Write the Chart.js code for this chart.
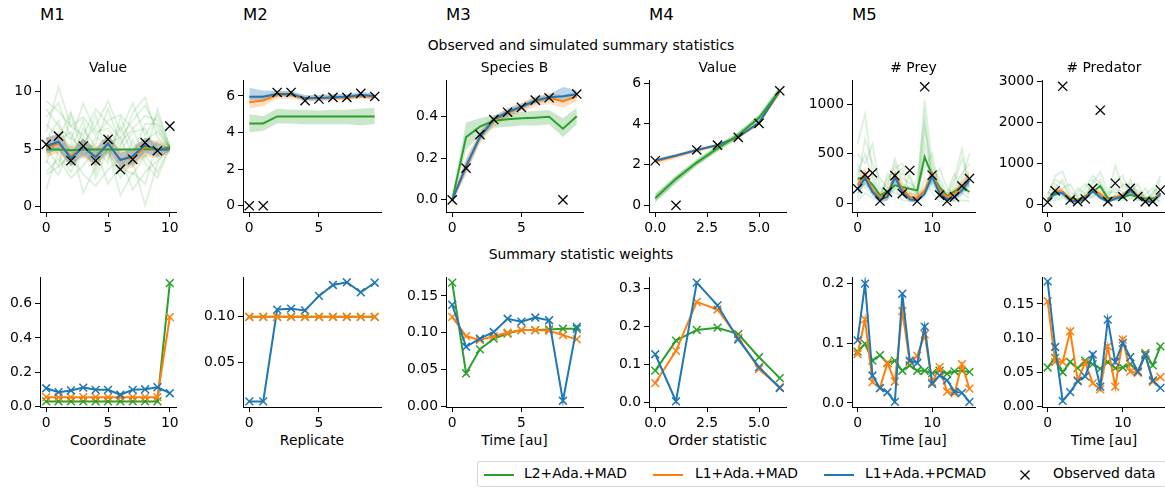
<!DOCTYPE html>
<html>
<head>
<meta charset="utf-8">
<script src="https://cdn.jsdelivr.net/npm/chart.js@4.4.1/dist/chart.umd.min.js"></script>
<style>
  html, body { margin: 0; padding: 0; background: #fff; overflow: hidden; }
  body { width: 1165px; height: 488px; position: relative; font-family: 'DejaVu Sans', sans-serif; color: #000; }
  canvas { position: absolute; }
  .t { position: absolute; transform: translate(-50%, -50%); white-space: nowrap; font-size: 13.9px; line-height: 1; }
  .m { position: absolute; transform: translate(0, -50%); font-size: 16.5px; line-height: 1; }
  #legend { position: absolute; left: 477px; top: 461px; width: 690px; height: 26px; border: 1px solid #d6d6d6; border-radius: 3px; box-sizing: border-box; }
  #legend .sw { position: absolute; top: 12px; width: 30px; height: 2px; }
  #legend .lb { position: absolute; top: 12px; transform: translate(0, -50%); font-size: 13.9px; line-height: 1; white-space: nowrap; }
  #legend svg { position: absolute; top: 7px; }
</style>
</head>
<body>

<div class="m" style="left:40px;top:15px">M1</div>
<div class="m" style="left:243px;top:15px">M2</div>
<div class="m" style="left:446px;top:15px">M3</div>
<div class="m" style="left:649px;top:15px">M4</div>
<div class="m" style="left:852px;top:15px">M5</div>
<div class="t" style="left:581px;top:46px">Observed and simulated summary statistics</div>
<div class="t" style="left:581px;top:255px">Summary statistic weights</div>

<div id="legend">
  <div class="sw" style="left:6px;background:#2ca02c"></div>
  <div class="lb" style="left:46px">L2+Ada.+MAD</div>
  <div class="sw" style="left:175px;background:#ff7f0e"></div>
  <div class="lb" style="left:217px">L1+Ada.+MAD</div>
  <div class="sw" style="left:346px;background:#1f77b4"></div>
  <div class="lb" style="left:387px">L1+Ada.+PCMAD</div>
  <svg style="left:541px" width="12" height="12"><path d="M1.5 1.5 L10.5 10.5 M10.5 1.5 L1.5 10.5" stroke="#000" stroke-width="1.3"/></svg>
  <div class="lb" style="left:575px">Observed data</div>
</div>

<script>
const GREEN = '#2ca02c'
const ORANGE = '#ff7f0e'
const BLUE = '#1f77b4'

// ---- observed and simulated summary statistics ----

// M1: value per coordinate (0..10)
const m1Obs = [5.42, 6.14, 4.0, 5.28, 4.0, 5.86, 3.25, 4.12, 5.57, 4.87, 7.01]
const m1L2 = [4.98, 4.98, 4.9, 4.97, 4.97, 4.97, 4.97, 4.98, 4.99, 4.98, 5.15]
const m1L1 = [5.1, 5.5, 4.4, 5.1, 4.4, 5.5, 4.1, 4.25, 5.2, 4.95, 5.0]
const m1PC = [5.28, 5.65, 4.2, 5.2, 4.29, 5.5, 4.06, 4.4, 5.36, 4.93, 5.0]
const m1L1Lo = [4.3, 4.7, 3.5, 4.3, 3.5, 4.7, 3.2, 3.4, 4.4, 4.2, 4.6]
const m1L1Hi = [6.0, 6.4, 5.2, 5.9, 5.2, 6.3, 5.0, 5.1, 6.0, 5.7, 5.4]
const m1PCLo = [4.6, 4.9, 3.5, 4.5, 3.6, 4.9, 3.4, 3.7, 4.7, 4.3, 4.8]
const m1PCHi = [6.0, 6.3, 4.9, 5.9, 5.0, 6.3, 4.7, 5.0, 6.0, 5.5, 5.2]
const m1L2Sims = [
  [9.2, 8.3, 7.0, 7.8, 6.2, 7.5, 8.0, 6.8, 7.9, 7.5, 5.2],
  [3.0, 4.2, 2.5, 3.6, 5.0, 2.0, 3.5, 2.8, 4.5, 3.0, 5.2],
  [6.5, 10.4, 7.0, 6.2, 8.5, 7.2, 6.0, 7.5, 8.8, 6.8, 5.1],
  [4.0, 2.8, 5.5, 1.2, 3.5, 4.8, 2.5, 4.0, 0.1, 3.8, 5.3],
  [7.2, 6.0, 8.2, 5.5, 7.0, 9.2, 6.5, 9.0, 6.2, 8.0, 5.2],
  [5.8, 7.5, 3.8, 6.8, 5.2, 3.8, 7.8, 5.2, 5.8, 6.5, 5.2],
  [2.8, 3.5, 4.5, 2.8, 1.8, 3.2, 4.2, 1.5, 3.0, 4.0, 5.1],
  [8.5, 7.0, 5.8, 9.0, 6.5, 6.8, 5.2, 8.2, 9.5, 6.0, 5.3],
  [4.8, 5.8, 6.5, 4.2, 6.0, 5.5, 6.0, 3.5, 5.0, 5.5, 5.2],
  [6.0, 4.5, 3.0, 5.8, 4.2, 4.8, 3.0, 5.8, 3.8, 2.5, 5.2],
  [3.8, 6.5, 5.0, 7.5, 3.0, 6.2, 4.8, 6.5, 6.8, 4.5, 5.2],
  [7.8, 9.0, 6.0, 5.0, 8.0, 4.2, 7.0, 4.5, 7.2, 7.2, 5.1],
  [5.2, 3.5, 8.0, 4.5, 5.5, 8.5, 5.5, 6.8, 4.2, 8.5, 5.2],
  [1.5, 5.0, 4.0, 6.0, 2.5, 5.0, 1.0, 3.0, 2.0, 5.8, 5.2]
]

// M2: value per replicate (0..9)
const m2Obs = [0, 0, 6.19, 6.19, 5.74, 5.83, 5.92, 5.92, 6.14, 5.97]
const m2L2 = [4.5, 4.5, 4.88, 4.88, 4.87, 4.87, 4.87, 4.87, 4.87, 4.88]
const m2L1 = [5.65, 5.75, 6.05, 6.05, 5.85, 5.88, 5.9, 5.92, 6.0, 5.95]
const m2PC = [5.95, 5.95, 6.1, 6.1, 5.88, 5.88, 5.93, 5.95, 6.05, 6.0]
const m2L2Lo = [4.0, 4.1, 4.5, 4.5, 4.45, 4.45, 4.45, 4.45, 4.4, 4.45]
const m2L2Hi = [5.0, 4.9, 5.3, 5.25, 5.25, 5.2, 5.25, 5.25, 5.3, 5.35]
const m2L1Lo = [5.3, 5.45, 5.85, 5.85, 5.7, 5.72, 5.75, 5.78, 5.85, 5.8]
const m2L1Hi = [6.0, 6.05, 6.25, 6.25, 6.0, 6.02, 6.05, 6.05, 6.15, 6.1]
const m2PCLo = [5.75, 5.78, 5.95, 5.95, 5.75, 5.75, 5.8, 5.82, 5.9, 5.85]
const m2PCHi = [6.45, 6.3, 6.3, 6.25, 6.05, 6.05, 6.1, 6.1, 6.2, 6.15]

// M3: species B over time (0..9)
const m3Obs = [0.0, 0.152, 0.312, 0.384, 0.419, 0.442, 0.477, 0.488, 0.0, 0.506]
const m3L2 = [0.0, 0.30, 0.35, 0.378, 0.385, 0.39, 0.393, 0.397, 0.34, 0.40]
const m3L1 = [0.0, 0.16, 0.30, 0.38, 0.415, 0.445, 0.47, 0.488, 0.47, 0.495]
const m3PC = [0.0, 0.16, 0.30, 0.385, 0.42, 0.445, 0.475, 0.49, 0.495, 0.505]
const m3L2Lo = [-0.01, 0.24, 0.31, 0.345, 0.35, 0.355, 0.355, 0.36, 0.3, 0.36]
const m3L2Hi = [0.02, 0.37, 0.39, 0.405, 0.41, 0.42, 0.425, 0.43, 0.39, 0.44]
const m3L1Lo = [-0.02, 0.12, 0.27, 0.35, 0.39, 0.42, 0.445, 0.46, 0.44, 0.47]
const m3L1Hi = [0.02, 0.2, 0.33, 0.40, 0.44, 0.465, 0.495, 0.51, 0.5, 0.52]
const m3PCLo = [-0.01, 0.13, 0.28, 0.365, 0.40, 0.43, 0.46, 0.475, 0.475, 0.49]
const m3PCHi = [0.01, 0.19, 0.32, 0.4, 0.435, 0.46, 0.49, 0.505, 0.54, 0.525]

// M4: order statistics (0..6)
const m4Obs = [2.19, 0.0, 2.72, 2.96, 3.34, 4.03, 5.63]
const m4L2 = [0.35, 1.3, 2.1, 2.8, 3.45, 4.3, 5.65]
const m4L1 = [2.15, 2.42, 2.7, 2.95, 3.35, 4.05, 5.6]
const m4PC = [2.2, 2.45, 2.72, 2.96, 3.36, 4.06, 5.65]
const m4L2Lo = [0.15, 1.1, 1.95, 2.65, 3.3, 4.1, 5.45]
const m4L2Hi = [0.55, 1.45, 2.25, 2.95, 3.6, 4.45, 5.85]
const m4L1Lo = [2.0, 2.3, 2.6, 2.87, 3.27, 3.95, 5.5]
const m4L1Hi = [2.3, 2.55, 2.8, 3.03, 3.43, 4.15, 5.72]

// M5: prey counts over time (0..15)
const m5Obs = [145, 285, 305, 20, 110, 278, 95, 330, 18, 1178, 282, 80, 18, 62, 172, 248]
const m5L2 = [247, 263, 186, 78, 118, 179, 162, 145, 128, 466, 280, 162, 71, 118, 172, 111]
const m5L1 = [179, 297, 128, 61, 84, 280, 145, 61, 51, 128, 297, 128, 61, 95, 172, 247]
const m5PC = [145, 253, 111, 37, 61, 263, 111, 37, 27, 95, 274, 95, 37, 61, 128, 230]
const m5L1Lo = [120, 230, 90, 20, 40, 220, 100, 20, 15, 80, 230, 80, 20, 40, 110, 190]
const m5L1Hi = [240, 360, 180, 100, 130, 340, 200, 110, 90, 180, 360, 180, 100, 150, 230, 330]
const m5PCLo = [90, 190, 70, 10, 20, 200, 70, 10, 5, 60, 200, 50, 10, 20, 80, 170]
const m5PCHi = [210, 320, 160, 70, 100, 320, 160, 70, 60, 150, 330, 150, 70, 110, 190, 290]
const m5L2Sims = [
  [600, 900, 300, 100, 200, 400, 200, 150, 100, 1050, 400, 200, 50, 150, 300, 400],
  [300, 500, 250, 50, 100, 300, 350, 100, 80, 750, 250, 150, 60, 200, 450, 200],
  [100, 200, 150, 20, 300, 200, 100, 300, 50, 600, 300, 100, 20, 100, 150, 80],
  [500, 400, 600, 150, 80, 150, 150, 80, 250, 900, 200, 350, 150, 80, 250, 500],
  [50, 300, 100, 50, 150, 450, 250, 200, 150, 350, 500, 120, 100, 300, 100, 50],
  [200, 650, 400, 250, 150, 100, 80, 50, 30, 500, 150, 80, 30, 50, 200, 300],
  [400, 150, 200, 80, 250, 350, 400, 250, 100, 800, 350, 250, 80, 250, 550, 150],
  [20, 100, 50, 10, 40, 150, 30, 20, 10, 250, 100, 20, 10, 20, 30, 20]
]

// M5: predator counts over time (0..15)
const m6Obs = [50, 330, 2885, 105, 65, 130, 390, 2300, 65, 515, 190, 390, 190, 65, 65, 350]
const m6L2 = [140, 240, 300, 140, 110, 200, 300, 450, 140, 170, 160, 230, 180, 140, 140, 220]
const m6L1 = [100, 330, 310, 130, 90, 180, 360, 250, 90, 170, 220, 350, 210, 90, 80, 280]
const m6PC = [80, 290, 270, 100, 60, 150, 330, 170, 60, 140, 190, 330, 190, 70, 60, 260]
const m6L1Lo = [60, 260, 240, 80, 50, 130, 290, 170, 50, 110, 160, 280, 150, 50, 50, 210]
const m6L1Hi = [150, 400, 390, 180, 130, 240, 440, 330, 140, 230, 290, 430, 280, 140, 130, 360]
const m6PCLo = [40, 220, 200, 60, 30, 100, 260, 110, 30, 90, 130, 260, 130, 40, 30, 190]
const m6PCHi = [130, 370, 350, 150, 100, 220, 420, 260, 110, 210, 270, 410, 260, 120, 110, 340]
const m6L2Sims = [
  [200, 700, 800, 300, 200, 400, 700, 500, 200, 950, 400, 500, 300, 200, 150, 600],
  [100, 400, 600, 150, 100, 300, 500, 800, 300, 300, 200, 300, 500, 100, 300, 400],
  [300, 200, 400, 500, 150, 150, 200, 300, 100, 600, 700, 200, 100, 400, 100, 150],
  [50, 500, 300, 100, 300, 500, 300, 250, 50, 200, 150, 600, 200, 50, 250, 700],
  [150, 150, 200, 50, 50, 100, 600, 400, 150, 100, 100, 150, 100, 100, 50, 100],
  [250, 600, 500, 200, 100, 200, 150, 600, 200, 400, 300, 250, 150, 250, 400, 250],
  [80, 100, 150, 80, 400, 250, 400, 150, 80, 250, 500, 400, 350, 150, 200, 50]
]

// ---- summary statistic weights ----
const w1L2 = [0.029, 0.029, 0.029, 0.029, 0.029, 0.029, 0.029, 0.029, 0.029, 0.029, 0.72]
const w1L1 = [0.054, 0.054, 0.054, 0.054, 0.054, 0.054, 0.054, 0.054, 0.054, 0.054, 0.522]
const w1PC = [0.106, 0.083, 0.093, 0.110, 0.097, 0.097, 0.068, 0.097, 0.10, 0.112, 0.077]

const w2L2 = [0.1, 0.1, 0.1, 0.1, 0.1, 0.1, 0.1, 0.1, 0.1, 0.1]
const w2L1 = [0.1, 0.1, 0.1, 0.1, 0.1, 0.1, 0.1, 0.1, 0.1, 0.1]
const w2PC = [0.007, 0.007, 0.108, 0.109, 0.107, 0.123, 0.135, 0.138, 0.127, 0.1375]

const w3L2 = [0.168, 0.045, 0.0775, 0.092, 0.099, 0.1036, 0.1036, 0.1045, 0.1054, 0.1054]
const w3L1 = [0.1216, 0.0955, 0.090, 0.0955, 0.10, 0.1036, 0.1036, 0.1027, 0.0968, 0.091]
const w3PC = [0.138, 0.081, 0.092, 0.101, 0.119, 0.115, 0.1207, 0.117, 0.0077, 0.108]

const w4L2 = [0.084, 0.163, 0.191, 0.197, 0.180, 0.119, 0.064]
const w4L1 = [0.051, 0.136, 0.265, 0.245, 0.171, 0.088, 0.040]
const w4PC = [0.127, 0.003, 0.316, 0.256, 0.166, 0.093, 0.038]

const w5L2 = [0.086, 0.099, 0.071, 0.080, 0.067, 0.071, 0.054, 0.063, 0.054, 0.054, 0.050, 0.054, 0.049, 0.053, 0.054, 0.052]
const w5L1 = [0.082, 0.14, 0.035, 0.025, 0.067, 0.036, 0.154, 0.069, 0.079, 0.115, 0.035, 0.060, 0.019, 0.016, 0.065, 0.024]
const w5PC = [0.105, 0.20, 0.046, 0.025, 0.018, 0.002, 0.183, 0.071, 0.067, 0.128, 0.032, 0.046, 0.038, 0.019, 0.017, 0.002]

const w6L2 = [0.057, 0.071, 0.050, 0.065, 0.056, 0.067, 0.062, 0.055, 0.065, 0.056, 0.057, 0.062, 0.051, 0.078, 0.060, 0.088]
const w6L1 = [0.154, 0.065, 0.065, 0.110, 0.038, 0.064, 0.034, 0.025, 0.088, 0.029, 0.098, 0.051, 0.049, 0.076, 0.036, 0.043]
const w6PC = [0.183, 0.087, 0.008, 0.021, 0.037, 0.044, 0.076, 0.029, 0.127, 0.065, 0.093, 0.072, 0.051, 0.075, 0.038, 0.027]

// ---- helpers ----
Chart.defaults.font.family = "'DejaVu Sans', sans-serif"
Chart.defaults.font.size = 13.9
Chart.defaults.color = '#000'

const pts = ys => ys.map((y, i) => ({ x: i, y: y }))

function meanLine(ys, color) {
  return { data: pts(ys), borderColor: color, borderWidth: 2, pointRadius: 0, fill: false }
}
function simLine(ys, color) {
  return { data: pts(ys), borderColor: color, borderWidth: 1.8, pointRadius: 0, fill: false }
}
function band(lo, hi, color) {
  return [
    { data: pts(lo), borderColor: 'rgba(0,0,0,0)', borderWidth: 1, pointRadius: 0, fill: false },
    { data: pts(hi), borderColor: 'rgba(0,0,0,0)', borderWidth: 1, pointRadius: 0, fill: '-1', backgroundColor: color }
  ]
}
function observed(ys) {
  return { data: pts(ys), showLine: false, pointStyle: 'crossRot', pointRadius: 6.5,
    pointBorderWidth: 1.3, pointBorderColor: '#000', pointBackgroundColor: 'rgba(0,0,0,0)' }
}
function weights(ys, color) {
  return { data: pts(ys), borderColor: color, borderWidth: 2, pointStyle: 'crossRot', pointRadius: 5.5,
    pointBorderWidth: 1.5, pointBorderColor: color, pointBackgroundColor: 'rgba(0,0,0,0)', fill: false }
}

const gFaint = 'rgba(44,160,44,0.16)'
const gBand = 'rgba(44,160,44,0.25)'
const oBand = 'rgba(255,127,14,0.25)'
const bBand = 'rgba(31,119,180,0.3)'

function addText(txt, x, y) {
  const d = document.createElement('div')
  d.className = 't'
  d.textContent = txt
  d.style.left = x + 'px'
  d.style.top = y + 'px'
  document.body.appendChild(d)
}

// box = [left, right, top, bottom] of the axes in page pixels
function panel(p) {
  const yw = 52, pad = 8, xh = 24
  const [L, R, T, B] = p.box
  const w = R - L + yw + pad
  const h = B - T + pad + xh
  const cv = document.createElement('canvas')
  cv.width = w
  cv.height = h
  cv.style.left = (L - yw) + 'px'
  cv.style.top = (T - pad) + 'px'
  cv.style.width = w + 'px'
  cv.style.height = h + 'px'
  document.body.appendChild(cv)

  // later datasets are drawn on top
  p.datasets.forEach((d, i) => { d.order = 1000 - i })

  const axis = (ticks, dec, isX) => ({
    type: 'linear',
    min: isX ? p.xr[0] : p.yr[0],
    max: isX ? p.xr[1] : p.yr[1],
    afterBuildTicks: s => { s.ticks = ticks.map(v => ({ value: v })) },
    afterFit: s => {
      if (isX) { s.height = xh; s.paddingLeft = 0; s.paddingRight = 0 }
      else { s.width = yw; s.paddingTop = 0; s.paddingBottom = 0 }
    },
    ticks: { callback: v => v.toFixed(dec), padding: 3, autoSkip: false, maxRotation: 0, color: '#000' },
    grid: { display: true, drawOnChartArea: false, drawTicks: true, tickLength: 5, color: '#000', tickWidth: 1 },
    border: { display: true, color: '#000', width: 1 }
  })

  new Chart(cv, {
    type: 'line',
    data: { datasets: p.datasets },
    options: {
      responsive: false,
      animation: false,
      events: [],
      layout: { padding: { top: pad, right: pad, left: 0, bottom: 0 } },
      plugins: { legend: { display: false }, tooltip: { enabled: false } },
      scales: {
        x: axis(p.xt, p.xd || 0, true),
        y: axis(p.yt, p.yd || 0, false)
      }
    }
  })

  if (p.title) addText(p.title, (L + R) / 2, 68)
  if (p.xlabel) addText(p.xlabel, (L + R) / 2, 441)
}

// ---- top row ----
panel({
  box: [40, 176, 80, 212], xr: [-0.5, 10.5], yr: [-0.46, 11.02], xt: [0, 5, 10], yt: [0, 5, 10],
  title: 'Value',
  datasets: [
    ...m1L2Sims.map(s => simLine(s, gFaint)),
    ...band(m1L1Lo, m1L1Hi, oBand),
    ...band(m1PCLo, m1PCHi, bBand),
    meanLine(m1L2, GREEN), meanLine(m1L1, ORANGE), meanLine(m1PC, BLUE),
    observed(m1Obs)
  ]
})
panel({
  box: [243, 381, 80, 212], xr: [-0.45, 9.45], yr: [-0.34, 6.87], xt: [0, 5], yt: [0, 2, 4, 6],
  title: 'Value',
  datasets: [
    ...band(m2L2Lo, m2L2Hi, gBand),
    ...band(m2L1Lo, m2L1Hi, oBand),
    ...band(m2PCLo, m2PCHi, bBand),
    meanLine(m2L2, GREEN), meanLine(m2L1, ORANGE), meanLine(m2PC, BLUE),
    observed(m2Obs)
  ]
})
panel({
  box: [446, 583, 80, 212], xr: [-0.45, 9.45], yr: [-0.058, 0.573], xt: [0, 5], yt: [0, 0.2, 0.4], yd: 1,
  title: 'Species B',
  datasets: [
    ...band(m3L2Lo, m3L2Hi, gBand),
    ...band(m3L1Lo, m3L1Hi, oBand),
    ...band(m3PCLo, m3PCHi, bBand),
    meanLine(m3L2, GREEN), meanLine(m3L1, ORANGE), meanLine(m3PC, BLUE),
    observed(m3Obs)
  ]
})
panel({
  box: [649, 786, 80, 212], xr: [-0.3, 6.3], yr: [-0.33, 6.16], xt: [0, 2.5, 5], xd: 1, yt: [0, 2, 4, 6],
  title: 'Value',
  datasets: [
    ...band(m4L2Lo, m4L2Hi, 'rgba(44,160,44,0.4)'),
    ...band(m4L1Lo, m4L1Hi, oBand),
    meanLine(m4L1, ORANGE), meanLine(m4PC, BLUE), meanLine(m4L2, GREEN),
    observed(m4Obs)
  ]
})
panel({
  box: [852, 975, 80, 212], xr: [-0.75, 15.75], yr: [-91, 1247], xt: [0, 10], yt: [0, 500, 1000],
  title: '# Prey',
  datasets: [
    ...m5L2Sims.map(s => simLine(s, gFaint)),
    ...band(m5L1Lo, m5L1Hi, oBand),
    ...band(m5PCLo, m5PCHi, bBand),
    meanLine(m5L2, GREEN), meanLine(m5L1, ORANGE), meanLine(m5PC, BLUE),
    observed(m5Obs)
  ]
})
panel({
  box: [1042, 1166, 80, 212], xr: [-0.75, 15.75], yr: [-188, 3039], xt: [0, 10], yt: [0, 1000, 2000, 3000],
  title: '# Predator',
  datasets: [
    ...m6L2Sims.map(s => simLine(s, gFaint)),
    ...band(m6L1Lo, m6L1Hi, oBand),
    ...band(m6PCLo, m6PCHi, bBand),
    meanLine(m6L2, GREEN), meanLine(m6L1, ORANGE), meanLine(m6PC, BLUE),
    observed(m6Obs)
  ]
})

// ---- bottom row ----
panel({
  box: [40, 176, 277, 407], xr: [-0.5, 10.5], yr: [-0.0035, 0.756], xt: [0, 5, 10], yt: [0, 0.2, 0.4, 0.6], yd: 1,
  xlabel: 'Coordinate',
  datasets: [weights(w1L2, GREEN), weights(w1L1, ORANGE), weights(w1PC, BLUE)]
})
panel({
  box: [243, 381, 277, 407], xr: [-0.45, 9.45], yr: [0.0009, 0.1438], xt: [0, 5], yt: [0.05, 0.10], yd: 2,
  xlabel: 'Replicate',
  datasets: [weights(w2L2, GREEN), weights(w2PC, BLUE), weights(w2L1, ORANGE)]
})
panel({
  box: [446, 583, 277, 407], xr: [-0.45, 9.45], yr: [-0.0008, 0.1757], xt: [0, 5], yt: [0, 0.05, 0.1, 0.15], yd: 2,
  xlabel: 'Time [au]',
  datasets: [weights(w3L2, GREEN), weights(w3L1, ORANGE), weights(w3PC, BLUE)]
})
panel({
  box: [649, 786, 277, 407], xr: [-0.3, 6.3], yr: [-0.0121, 0.3307], xt: [0, 2.5, 5], xd: 1, yt: [0, 0.1, 0.2, 0.3], yd: 1,
  xlabel: 'Order statistic',
  datasets: [weights(w4L2, GREEN), weights(w4L1, ORANGE), weights(w4PC, BLUE)]
})
panel({
  box: [852, 975, 277, 407], xr: [-0.75, 15.75], yr: [-0.0067, 0.211], xt: [0, 10], yt: [0, 0.1, 0.2], yd: 1,
  xlabel: 'Time [au]',
  datasets: [weights(w5L2, GREEN), weights(w5L1, ORANGE), weights(w5PC, BLUE)]
})
panel({
  box: [1042, 1166, 277, 407], xr: [-0.75, 15.75], yr: [-0.0009, 0.1895], xt: [0, 10], yt: [0, 0.05, 0.1, 0.15], yd: 2,
  xlabel: 'Time [au]',
  datasets: [weights(w6L2, GREEN), weights(w6L1, ORANGE), weights(w6PC, BLUE)]
})
</script>
</body>
</html>
